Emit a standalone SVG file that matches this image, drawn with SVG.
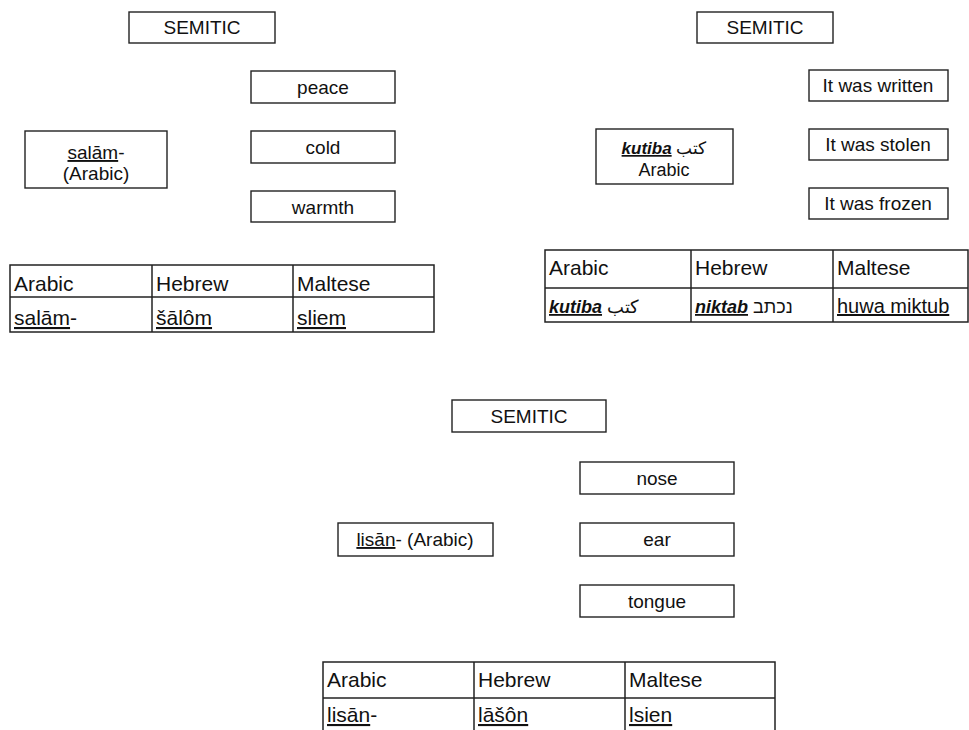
<svg xmlns="http://www.w3.org/2000/svg" width="969" height="730" viewBox="0 0 969 730">
<style>
.box{fill:#fff;stroke:#222;stroke-width:1.4}
.grid{fill:none;stroke:#222;stroke-width:1.5}
.t{font-family:"Liberation Sans",Arial,sans-serif;font-size:19px;fill:#111;text-anchor:middle}
.tb{font-family:"Liberation Sans",Arial,sans-serif;font-size:21px;fill:#111}
.tr{font-family:"Liberation Sans","Noto Sans",Arial,sans-serif;fill:#111}
.u{text-decoration:underline dotted}
.bi{font-weight:bold;font-style:italic}
</style>
<rect width="969" height="730" fill="#fff"/>
<g id="connectors"/>

<!-- Panel 1 -->
<g id="semitic1"><rect class="box" x="129" y="12" width="146" height="31"/><text class="t" x="202" y="34">SEMITIC</text></g>
<g id="peace"><rect class="box" x="251" y="71" width="144" height="32"/><text class="t" x="323" y="94">peace</text></g>
<g id="cold"><rect class="box" x="251" y="131" width="144" height="32"/><text class="t" x="323" y="154">cold</text></g>
<g id="warmth"><rect class="box" x="251" y="191" width="144" height="31"/><text class="t" x="323" y="214">warmth</text></g>
<g id="salam"><rect class="box" x="25" y="131" width="142" height="57"/><text class="t" x="96" y="159"><tspan class="u">salām</tspan>-</text><text class="t" x="96" y="180">(Arabic)</text></g>
<g id="table1">
<rect class="grid" x="10" y="265" width="424" height="67"/>
<line class="grid" x1="10" y1="297" x2="434" y2="297"/>
<line class="grid" x1="152" y1="265" x2="152" y2="332"/>
<line class="grid" x1="293" y1="265" x2="293" y2="332"/>
<text class="tb" x="14" y="291">Arabic</text>
<text class="tb" x="156" y="291">Hebrew</text>
<text class="tb" x="297" y="291">Maltese</text>
<text class="tb" x="14" y="325"><tspan class="u">salām</tspan>-</text>
<text class="tb u" x="156" y="325">šālôm</text>
<text class="tb u" x="297" y="325">sliem</text>
</g>

<!-- Panel 2 -->
<g id="semitic2"><rect class="box" x="697" y="12" width="136" height="31"/><text class="t" x="765" y="34">SEMITIC</text></g>
<g id="written"><rect class="box" x="809" y="70" width="139" height="31"/><text class="t" x="878" y="92">It was written</text></g>
<g id="stolen"><rect class="box" x="809" y="129" width="139" height="31"/><text class="t" x="878" y="151">It was stolen</text></g>
<g id="frozen"><rect class="box" x="809" y="188" width="139" height="31"/><text class="t" x="878" y="210">It was frozen</text></g>
<g id="kutiba"><rect class="box" x="596" y="129" width="137" height="55"/>
<text class="tr" x="664" y="154" font-size="17" text-anchor="middle"><tspan class="bi u">kutiba</tspan> كتب</text>
<text class="tr" x="664" y="176" font-size="18" text-anchor="middle">Arabic</text></g>
<g id="table2">
<rect class="grid" x="545" y="250" width="423" height="72"/>
<line class="grid" x1="545" y1="288" x2="968" y2="288"/>
<line class="grid" x1="691" y1="250" x2="691" y2="322"/>
<line class="grid" x1="833" y1="250" x2="833" y2="322"/>
<text class="tb" x="549" y="275">Arabic</text>
<text class="tb" x="695" y="275">Hebrew</text>
<text class="tb" x="837" y="275">Maltese</text>
<text class="tr" x="549" y="313" font-size="18"><tspan class="bi u">kutiba</tspan> كتب</text>
<text class="tr" x="695" y="313" font-size="18"><tspan class="bi u">niktab</tspan> נכתב</text>
<text class="tr u" x="837" y="313" font-size="20">huwa miktub</text>
</g>

<!-- Panel 3 -->
<g id="semitic3"><rect class="box" x="452" y="400" width="154" height="32"/><text class="t" x="529" y="423">SEMITIC</text></g>
<g id="nose"><rect class="box" x="580" y="462" width="154" height="32"/><text class="t" x="657" y="485">nose</text></g>
<g id="ear"><rect class="box" x="580" y="523" width="154" height="33"/><text class="t" x="657" y="546">ear</text></g>
<g id="tongue"><rect class="box" x="580" y="585" width="154" height="32"/><text class="t" x="657" y="608">tongue</text></g>
<g id="lisan"><rect class="box" x="338" y="523" width="155" height="33"/><text class="t" x="415" y="546"><tspan class="u">lisān</tspan>- (Arabic)</text></g>
<g id="table3">
<rect class="grid" x="323" y="662" width="452" height="80"/>
<line class="grid" x1="323" y1="698" x2="775" y2="698"/>
<line class="grid" x1="474" y1="662" x2="474" y2="742"/>
<line class="grid" x1="625" y1="662" x2="625" y2="742"/>
<text class="tb" x="327" y="687">Arabic</text>
<text class="tb" x="478" y="687">Hebrew</text>
<text class="tb" x="629" y="687">Maltese</text>
<text class="tb" x="327" y="722"><tspan class="u">lisān</tspan>-</text>
<text class="tb u" x="478" y="722">lāšôn</text>
<text class="tb u" x="629" y="722">lsien</text>
</g>
</svg>
